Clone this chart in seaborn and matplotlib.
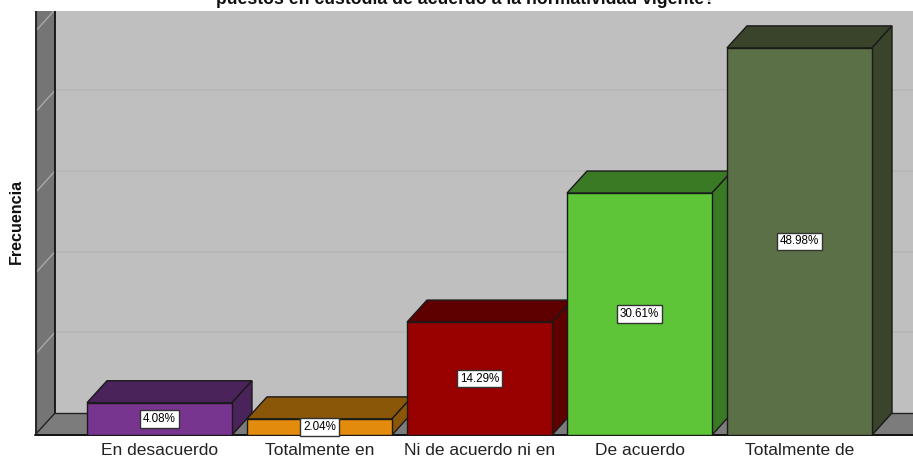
import matplotlib
matplotlib.use("Agg")
import matplotlib.pyplot as plt
from matplotlib.patches import Polygon
import seaborn as sns

# Datos
categorias = ["En desacuerdo", "Totalmente en", "Ni de acuerdo ni en", "De acuerdo", "Totalmente de"]
frecuencias = [2, 1, 7, 15, 24]
etiquetas = ["4.08%", "2.04%", "14.29%", "30.61%", "48.98%"]
colores = ["#783590", "#E28B0C", "#990000", "#5EC438", "#5C7047"]
colores_oscuros = ["#4A235A", "#8A5709", "#5E0000", "#3B7A24", "#3A442B"]
titulo = "puestos en custodia de acuerdo a la normatividad vigente?"

W, H = 913, 457
sns.set_theme(style="white")
plt.rcParams["font.family"] = ["Liberation Sans", "DejaVu Sans"]

fig = plt.figure(figsize=(W / 100, H / 100), dpi=100)
ax = fig.add_axes([35 / W, (H - 435) / H, (W - 35) / W, (435 - 11) / H])
ax.patch.set_visible(False)

sns.barplot(x=categorias, y=frecuencias, hue=categorias, palette=colores, dodge=False,
            width=145 / 160, saturation=1, edgecolor="#1a1a1a", linewidth=1, legend=False, ax=ax)

# Escala: 160 px por categoria, 16.13 px por unidad de frecuencia
x0 = -124.5 / 160
x1 = 753.5 / 160
y1 = 424 / 16.13
ax.set_xlim(x0, x1)
ax.set_ylim(0, y1)
dx = 20 / 160
dy = 22 / 16.13

# Paredes y piso
ax.add_patch(Polygon([(x0 + dx, dy), (x0 + dx, y1), (x1, y1), (x1, dy)], fc="#BFBFBF", ec="none", zorder=0))
ax.add_patch(Polygon([(x0, 0), (x0, y1), (x0 + dx, y1), (x0 + dx, dy)], fc="#757575", ec="none", zorder=0.5))
ax.add_patch(Polygon([(x0, 0), (x0 + dx, dy), (x1, dy), (x1, 0)], fc="#7C7C7C", ec="none", zorder=0.5))

# Lineas de cuadricula en pared y lateral
for k in range(1, 6):
    ax.plot([x0 + dx, x1], [dy + 5 * k, dy + 5 * k], color="#B7B7B7", lw=1.1, zorder=1)
    ax.plot([x0, x0 + dx], [5 * k, dy + 5 * k], color="#A8A8A8", lw=1, zorder=1)

# Bordes
ax.plot([x0 + dx, x0 + dx], [dy, y1], color="#111111", lw=1.3, zorder=1.5)
ax.plot([x0 + dx, x1], [dy, dy], color="#222222", lw=1, zorder=1.5)
ax.plot([x0, x0 + dx], [0, dy], color="#222222", lw=1, zorder=1.5)
ax.plot([x0, x0], [0, y1], color="#2A2A2A", lw=3, zorder=1.5)
ax.plot([x0, x1], [0, 0], color="#111111", lw=1.4, zorder=2, clip_on=False)

# Caras 3D de cada barra
barras = [b for c in ax.containers for b in c]
for i, b in enumerate(barras):
    xa = b.get_x()
    xb = xa + b.get_width()
    h = b.get_height()
    z = 3 + i
    ax.add_patch(Polygon([(xa, h), (xa + dx, h + dy), (xb + dx, h + dy), (xb, h)],
                         fc=colores_oscuros[i], ec="#1a1a1a", lw=1, zorder=z))
    ax.add_patch(Polygon([(xb, 0), (xb, h), (xb + dx, h + dy), (xb + dx, dy)],
                         fc=colores_oscuros[i], ec="#1a1a1a", lw=1, zorder=z))
    b.set_zorder(z + 0.5)
    ax.text(xa + b.get_width() / 2, h / 2, etiquetas[i], ha="center", va="center", fontsize=8.4,
            color="black", zorder=20,
            bbox=dict(boxstyle="square,pad=0.25", fc="white", ec="#333333", lw=1))

ax.tick_params(axis="x", length=0, pad=5.5, labelsize=12.5, colors="#222222")
ax.set_yticks([])
ax.set_xlabel("")
ax.set_ylabel("")
sns.despine(ax=ax, left=True, bottom=True)

fig.text(16 / W, 1 - 221.5 / H, "Frecuencia", rotation=90, ha="center", va="center",
         fontsize=11.6, fontweight="bold", color="#111111")
fig.text(465 / W, 1 - 4 / H, titulo, ha="center", va="baseline", fontsize=12.7,
         fontweight="bold", color="#111111")

fig.savefig("out.png", dpi=100)
